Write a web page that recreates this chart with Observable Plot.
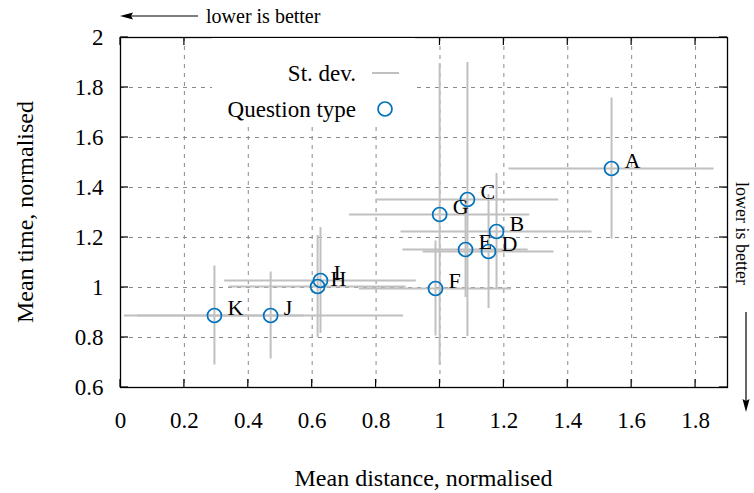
<!DOCTYPE html>
<html><head><meta charset="utf-8">
<script src="https://cdn.jsdelivr.net/npm/d3@7"></script>
<script src="https://cdn.jsdelivr.net/npm/@observablehq/plot@0.6"></script>
<style>body{margin:0;background:#fff} svg{display:block}</style>
</head><body><div id="chart"></div>
<script>
const labels   = ["A","B","C","D","E","F","G","H","I","J","K"];
const meanDist = [1.537,1.177,1.086,1.152,1.080,0.986,0.999,0.617,0.626,0.470,0.294];
const meanTime = [1.476,1.224,1.352,1.144,1.152,0.996,1.292,1.004,1.028,0.888,0.888];
const sdDist   = [0.321,0.299,0.286,0.205,0.196,0.238,0.282,0.277,0.300,0.416,0.282];
const sdTime   = [0.282,0.232,0.548,0.228,0.192,0.190,0.604,0.204,0.212,0.174,0.198];
const xTicks = [0,0.2,0.4,0.6,0.8,1,1.2,1.4,1.6,1.8];
const yTicks = [0.6,0.8,1,1.2,1.4,1.6,1.8,2];
const xTitle = "Mean distance, normalised";
const yTitle = "Mean time, normalised";
const legendLabels = ["St. dev.","Question type"];
const noteText = "lower is better";

const data = labels.map((l,i)=>({label:l,x:meanDist[i],y:meanTime[i],sx:sdDist[i],sy:sdTime[i]}));
const FONT = '"Liberation Serif","Times New Roman",serif';
const BLUE = "#0072bd", GREY = "#c0c0c0";
const fmt = d => String(+d.toFixed(1));

const plot = Plot.plot({
  width: 754, height: 493,
  marginLeft: 120, marginRight: 27, marginTop: 37, marginBottom: 106,
  style: {fontFamily: FONT, fontSize: "23px", background: "#fff", color: "#000"},
  x: {domain: [0, 1.9]},
  y: {domain: [0.6, 2]},
  marks: [
    Plot.gridX(xTicks, {stroke: "#8a8a8a", strokeOpacity: 1, strokeDasharray: "4,5", strokeWidth: 1}),
    Plot.gridY(yTicks, {stroke: "#8a8a8a", strokeOpacity: 1, strokeDasharray: "4,5", strokeWidth: 1}),
    Plot.axisX(xTicks, {tickSize: 0, tickPadding: 24, tickFormat: fmt, fontSize: 23, label: null}),
    Plot.axisY(yTicks, {tickSize: 0, tickPadding: 17, tickFormat: fmt, fontSize: 23, label: null}),
    Plot.ruleY(data, {y: "y", x1: d => d.x - d.sx, x2: d => d.x + d.sx, stroke: GREY, strokeWidth: 2}),
    Plot.ruleX(data, {x: "x", y1: d => d.y - d.sy, y2: d => d.y + d.sy, stroke: GREY, strokeWidth: 2}),
    Plot.dot(data, {x: "x", y: "y", r: 7, stroke: BLUE, strokeWidth: 1.7, fill: "none"}),
    Plot.text(data, {x: "x", y: "y", text: "label", dx: 13, dy: -8, textAnchor: "start", fontSize: 22, fill: "#000"}),
    Plot.frame({stroke: "#000", strokeWidth: 1.3})
  ]
});

const svg = d3.select(plot);
const xs = plot.scale("x"), ys = plot.scale("y");
const L = xs.range[0], R = xs.range[1], B = ys.range[0], T = ys.range[1];
const g = svg.append("g").attr("stroke", "#000").attr("stroke-width", 1.2);
for (const t of xTicks) {
  const px = xs.apply(t);
  g.append("line").attr("x1", px).attr("x2", px).attr("y1", B).attr("y2", B - 8);
  g.append("line").attr("x1", px).attr("x2", px).attr("y1", T).attr("y2", T + 8);
}
for (const t of yTicks) {
  const py = ys.apply(t);
  g.append("line").attr("x1", L).attr("x2", L + 8).attr("y1", py).attr("y2", py);
  g.append("line").attr("x1", R).attr("x2", R - 8).attr("y1", py).attr("y2", py);
}

// legend box
const lg = svg.append("g").attr("font-family", FONT).attr("font-size", 23);
lg.append("rect").attr("x", 212).attr("y", T + 1).attr("width", 203).attr("height", 88).attr("fill", "#fff");
lg.append("text").attr("x", 356).attr("y", 73).attr("dy", "0.35em").attr("text-anchor", "end").text(legendLabels[0]);
lg.append("line").attr("x1", 372).attr("x2", 399).attr("y1", 73).attr("y2", 73).attr("stroke", GREY).attr("stroke-width", 2);
lg.append("text").attr("x", 356).attr("y", 109).attr("dy", "0.35em").attr("text-anchor", "end").text(legendLabels[1]);
lg.append("circle").attr("cx", 385).attr("cy", 109).attr("r", 7).attr("fill", "none").attr("stroke", BLUE).attr("stroke-width", 1.7);

// axis titles
const tg = svg.append("g").attr("font-family", FONT).attr("font-size", 24).attr("fill", "#000");
tg.append("text").attr("x", (L + R) / 2).attr("y", 478).attr("dy", "0.35em").attr("text-anchor", "middle").text(xTitle);
tg.append("text").attr("transform", `translate(25,${(T + B) / 2}) rotate(-90)`).attr("dy", "0.35em").attr("text-anchor", "middle").text(yTitle);

// "lower is better" notes
const ng = svg.append("g").attr("font-family", FONT).attr("font-size", 20).attr("fill", "#000");
ng.append("text").attr("x", 206).attr("y", 16).attr("dy", "0.35em").attr("text-anchor", "start").text(noteText);
ng.append("line").attr("x1", 198).attr("x2", 128).attr("y1", 16).attr("y2", 16).attr("stroke", "#000").attr("stroke-width", 1.2);
ng.append("path").attr("d", "M120,16 L133,12.5 L131,16 L133,19.5 Z").attr("fill", "#000");
ng.append("text").attr("transform", "translate(736,182) rotate(90)").attr("text-anchor", "start").attr("font-size", 18).text(noteText);
ng.append("line").attr("x1", 746).attr("x2", 746).attr("y1", 312).attr("y2", 404).attr("stroke", "#000").attr("stroke-width", 1.2);
ng.append("path").attr("d", "M746,412 L742.5,399 L746,401 L749.5,399 Z").attr("fill", "#000");

document.getElementById("chart").appendChild(plot);
</script>
</body></html>
